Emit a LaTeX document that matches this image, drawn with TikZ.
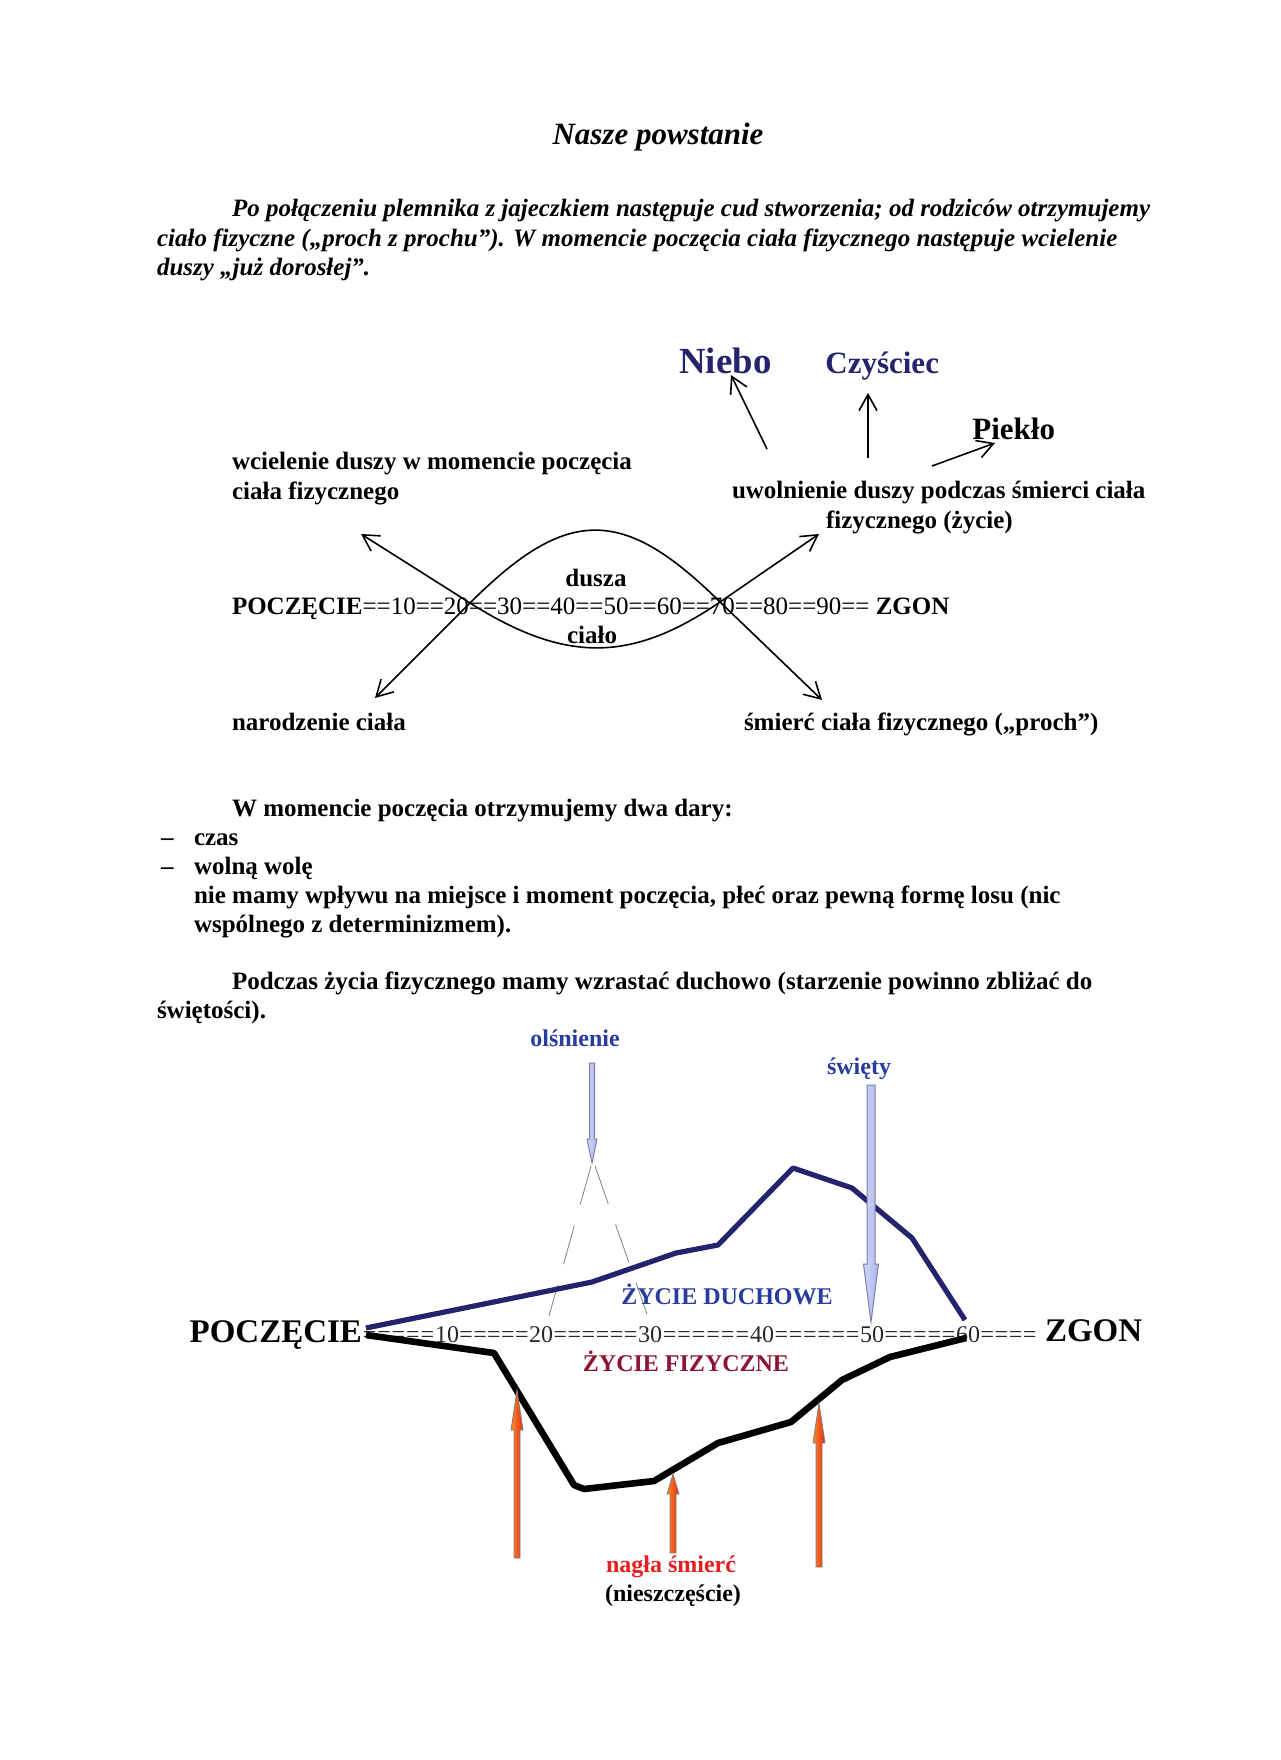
\documentclass[tikz,border=0pt]{standalone}
\usepackage{fontspec}
\setmainfont{Liberation Serif}
\usetikzlibrary{arrows.meta}
\definecolor{navy}{RGB}{35,35,110}
\definecolor{tblue}{RGB}{40,60,160}
\definecolor{dred}{RGB}{140,20,50}
\definecolor{bred}{RGB}{230,30,30}
\definecolor{lblue}{RGB}{190,200,240}
\definecolor{lbluedark}{RGB}{120,130,175}
\definecolor{axgray}{RGB}{40,40,40}
\definecolor{arrorange}{RGB}{250,140,40}
\definecolor{arrred}{RGB}{230,40,20}
% #1 x, #2 start, #3 tip, #4 shaft half width, #5 head extra, #6 head length, #7 style
\newcommand\myarrowdown[7]{%
  \path[#7] ({#1-#4},#2) -- ({#1+#4},#2) -- ({#1+#4},{#3-#6}) -- ({#1+#4+#5},{#3-#6}) -- (#1,#3) -- ({#1-#4-#5},{#3-#6}) -- ({#1-#4},{#3-#6}) -- cycle;}
\newcommand\myarrowup[7]{%
  \path[#7] ({#1-#4},#2) -- ({#1+#4},#2) -- ({#1+#4},{#3+#6}) -- ({#1+#4+#5},{#3+#6}) -- (#1,#3) -- ({#1-#4-#5},{#3+#6}) -- ({#1-#4},{#3+#6}) -- cycle;}
\newcommand\eqfill[1]{\hbox to #1pt{\xleaders\hbox{=}\hfil}}
\begin{document}
\begin{tikzpicture}[x=0.5pt,y=-0.5pt,
  txt/.style={inner sep=0pt, outer sep=0pt, anchor=base west, font=\fontsize{12.5}{15}\selectfont\bfseries},
  txti/.style={txt, font=\fontsize{12.5}{15}\selectfont\bfseries\itshape},
  thinarrow/.style={line width=0.8pt, -{Straight Barb[length=8pt,width=9pt]}},
  thinline/.style={line width=0.8pt},
  bluearrow/.style={draw=lbluedark, line width=0.5pt, left color=lblue!70!white, right color=lblue!90!blue},
  redarrow/.style={draw=gray, line width=0.4pt, left color=arrorange, right color=arrred},
  axnum/.style={inner sep=0pt, outer sep=0pt, anchor=base, font=\fontsize{12}{14}\selectfont, text=axgray},
  axeq/.style={inner sep=0pt, outer sep=0pt, anchor=base west, font=\fontsize{12}{14}\selectfont, text=axgray},
]
\useasboundingbox[fill=white] (0,0) rectangle (1280,1760);

% ---------- header ----------
\node[inner sep=0pt, anchor=base, font=\fontsize{15.5}{18}\selectfont\bfseries\itshape] (title) at (658,145) {Nasze powstanie};
\node[txti] (p1a) at (232,217) {Po połączeniu plemnika z jajeczkiem następuje cud stworzenia; od rodziców otrzymujemy};
\node[txti] (p1b) at (157,247) {ciało fizyczne („proch z prochu”). W momencie poczęcia ciała fizycznego następuje wcielenie};
\node[txti] (p1c) at (157,276) {duszy „już dorosłej”.};

% ---------- diagram 1 ----------
\node[inner sep=0pt, anchor=base west, font=\fontsize{18.4}{20}\selectfont\bfseries, text=navy] (niebo) at (679,373) {Niebo};
\node[inner sep=0pt, anchor=base west, font=\fontsize{15.5}{18}\selectfont\bfseries, text=navy] (czysciec) at (825,373) {Czyściec};
\node[inner sep=0pt, anchor=base west, font=\fontsize{15.5}{18}\selectfont\bfseries] (pieklo) at (972,439) {Piekło};

\coordinate (nS) at (767,449); \coordinate (nT) at (731,375);
\coordinate (cS) at (868,458); \coordinate (cT) at (868,393);
\coordinate (pS) at (932,466); \coordinate (pT) at (995,443);
\draw[thinarrow] (nS) -- (nT);
\draw[thinarrow] (cS) -- (cT);
\draw[thinarrow] (pS) -- (pT);

\node[txt] (wc1) at (232,469) {wcielenie duszy w momencie poczęcia};
\node[txt] (wc2) at (232,499) {ciała fizycznego};
\node[txt] (uw1) at (732,498) {uwolnienie duszy podczas śmierci ciała};
\node[txt] (uw2) at (826,528) {fizycznego (życie)};

\node[txt] (axis1) at (232,614) {POCZĘCIE\mdseries==10==20==30==40==50==60==70==80==90==\bfseries{} ZGON};

\node[inner sep=0pt, anchor=base, font=\fontsize{12.5}{15}\selectfont\bfseries] (dusza) at (596,586) {dusza};
\node[inner sep=0pt, anchor=base, font=\fontsize{12.5}{15}\selectfont\bfseries] (cialo) at (592,643) {ciało};

\coordinate (ul) at (361,534);
\coordinate (ll) at (375,698);
\coordinate (cl) at (470,603);
\coordinate (cr) at (720,602);
\coordinate (ur) at (819,534);
\coordinate (lr) at (822,700);
\draw[thinline, {Straight Barb[length=8pt,width=9pt]}-{Straight Barb[length=8pt,width=9pt]}]
  (ll) -- (cl) .. controls (567,506) and (623,506) .. (cr) -- (lr);
\draw[thinline, {Straight Barb[length=8pt,width=9pt]}-{Straight Barb[length=8pt,width=9pt]}]
  (ul) -- (cl) .. controls (565,663) and (631,663) .. (cr) -- (ur);

\node[txt] (nar) at (232,730) {narodzenie ciała};
\node[txt] (smc) at (744,730) {śmierć ciała fizycznego („proch”)};

% ---------- middle text ----------
\node[txt] (dary) at (232,816) {W momencie poczęcia otrzymujemy dwa dary:};
\node[txt] (d1) at (161,845) {–};
\node[txt] (czas) at (194,845) {czas};
\node[txt] (d2) at (161,874) {–};
\node[txt] (wola) at (194,874) {wolną wolę};
\node[txt] (nie1) at (194,903) {nie mamy wpływu na miejsce i moment poczęcia, płeć oraz pewną formę losu (nic};
\node[txt] (nie2) at (194,932) {wspólnego z determinizmem).};
\node[txt] (pod1) at (232,989) {Podczas życia fizycznego mamy wzrastać duchowo (starzenie powinno zbliżać do};
\node[txt] (pod2) at (157,1018) {świętości).};

% ---------- diagram 2 ----------
\node[inner sep=0pt, anchor=base, font=\fontsize{12}{14}\selectfont\bfseries, text=tblue] (olsn) at (575,1046) {olśnienie};
\node[inner sep=0pt, anchor=base, font=\fontsize{12}{14}\selectfont\bfseries, text=tblue] (swiety) at (859,1074) {święty};

% dashed cone below olśnienie
\coordinate (ap1) at (591,1166); \coordinate (ap2) at (595,1166);
\coordinate (vl) at (549,1316); \coordinate (vr) at (647,1314);
\draw[gray, line width=0.4pt, dash pattern=on 20pt off 11pt] (ap1) -- (vl);
\draw[gray, line width=0.4pt, dash pattern=on 20pt off 11pt] (ap2) -- (vr);

% spiritual life
\draw[navy, line width=2.6pt, line join=round] (366,1328) -- (592,1282) -- (676,1253) -- (718,1245) -- (793,1168) -- (852,1188) -- (912,1238) -- (965,1320);

% axis 2
\node[inner sep=0pt, outer sep=0pt, anchor=base east, font=\fontsize{16.5}{19}\selectfont\bfseries] (pocz2) at (362,1342) {POCZĘCIE};
\node[inner sep=0pt, outer sep=0pt, anchor=base west, font=\fontsize{16.5}{19}\selectfont\bfseries] (zgon2) at (1045,1341) {ZGON};
\node[axeq] (e0) at (362,1342) {\eqfill{36.5}};
\node[axnum] (n10) at (447,1342) {10};
\node[axeq] (e1) at (459,1342) {\eqfill{35}};
\node[axnum] (n20) at (541,1342) {20};
\node[axeq] (e2) at (553,1342) {\eqfill{42.5}};
\node[axnum] (n30) at (650,1342) {30};
\node[axeq] (e3) at (662,1342) {\eqfill{44}};
\node[axnum] (n40) at (762,1342) {40};
\node[axeq] (e4) at (774,1342) {\eqfill{43}};
\node[axnum] (n50) at (872,1342) {50};
\node[axeq] (e5) at (884,1342) {\eqfill{36}};
\node[axnum] (n60) at (968,1342) {60};
\node[axeq] (e6) at (980,1342) {\eqfill{28.5}};

% physical life
\draw[black, line width=3.3pt, line join=round] (366,1335) -- (494,1353) -- (574,1485) -- (584,1489) -- (654,1481) -- (718,1443) -- (791,1422) -- (842,1380) -- (890,1357) -- (966,1338);

\node[inner sep=0pt, anchor=base, font=\fontsize{12}{14}\selectfont\bfseries, text=tblue] (zd) at (727,1304) {ŻYCIE DUCHOWE};
\node[inner sep=0pt, anchor=base, font=\fontsize{12}{14}\selectfont\bfseries, text=dred] (zf) at (686,1371) {ŻYCIE FIZYCZNE};

% light blue arrows
\myarrowdown{592}{1063}{1163}{2.5}{2.5}{24}{bluearrow}
\myarrowdown{871}{1085}{1322}{4}{3.5}{58}{bluearrow}

% orange arrows
\myarrowup{517}{1558}{1390}{3}{3}{40}{redarrow}
\myarrowup{673}{1553}{1474}{3}{3}{20}{redarrow}
\myarrowup{819}{1567}{1403}{3}{3}{40}{redarrow}

\node[inner sep=0pt, anchor=base, font=\fontsize{12}{14}\selectfont\bfseries, text=bred] (nagla) at (671,1572) {nagła śmierć};
\node[inner sep=0pt, anchor=base, font=\fontsize{12}{14}\selectfont\bfseries] (niesz) at (673,1601) {(nieszczęście)};
\end{tikzpicture}
\end{document}
